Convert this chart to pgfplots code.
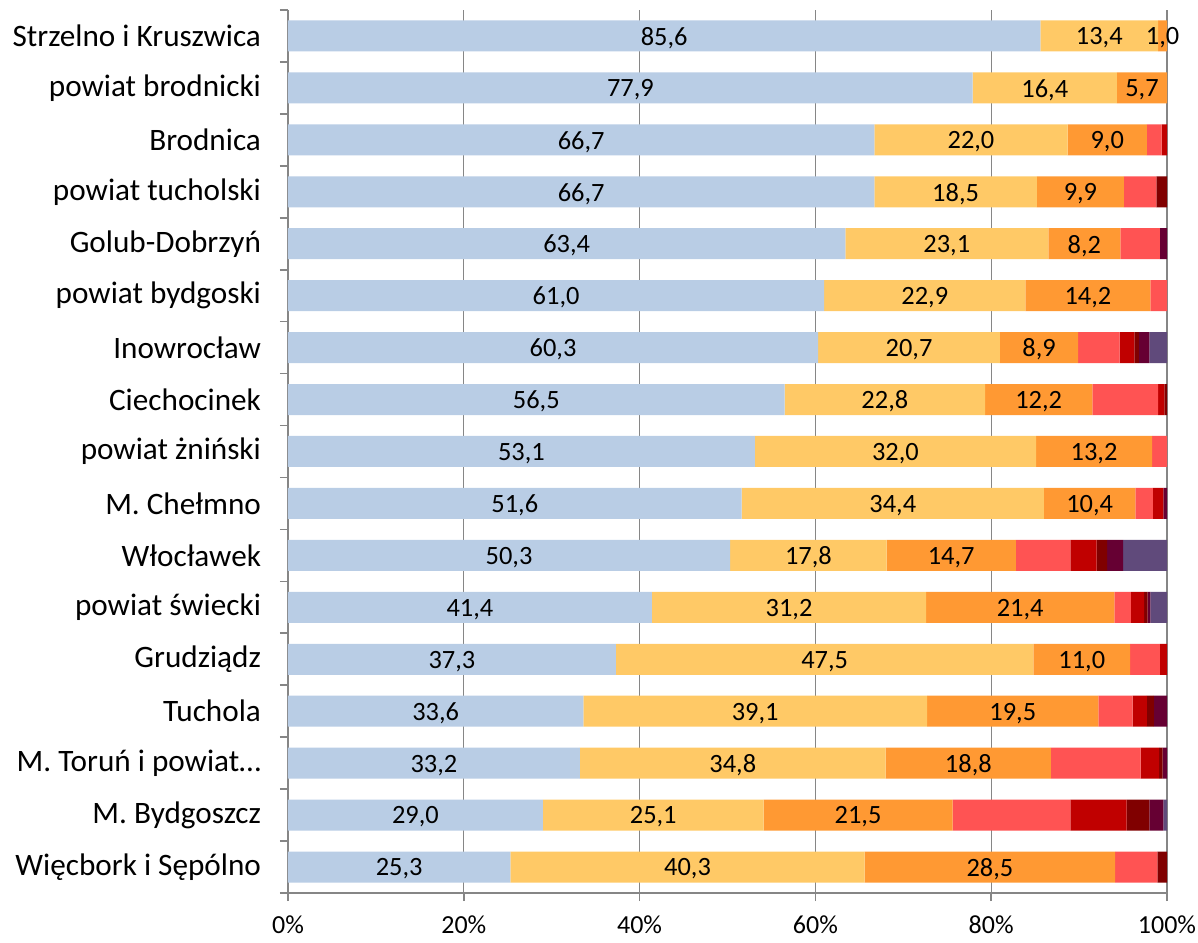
\documentclass[border=0pt]{standalone}
\usepackage{pgfplots}
\usepackage{pgfplotstable}
\pgfplotsset{compat=1.18}
\usepackage{fontspec}
\setmainfont{Carlito}
\definecolor{c1}{HTML}{B9CDE5}
\definecolor{c2}{HTML}{FFC966}
\definecolor{c3}{HTML}{FF9933}
\definecolor{c4}{HTML}{FF5353}
\definecolor{c5}{HTML}{C00000}
\definecolor{c6}{HTML}{800000}
\definecolor{c7}{HTML}{660033}
\definecolor{c8}{HTML}{604A7B}
\definecolor{axgray}{HTML}{868686}
\pgfplotstableread{
y s1 s2 s3 s4 s5 s6 s7 s8
0 25.3 40.3 28.5 4.8 0 1.1 0 0
1 29.0 25.1 21.5 13.4 6.4 2.6 1.6 0.4
2 33.2 34.8 18.8 10.2 2.1 0.4 0.5 0
3 33.6 39.1 19.5 3.9 1.6 0.8 1.5 0
4 37.3 47.5 11.0 3.4 0.8 0 0 0
5 41.4 31.2 21.4 1.9 1.5 0.4 0.3 1.9
6 50.3 17.8 14.7 6.2 3.0 1.2 1.8 5.0
7 51.6 34.4 10.4 2.0 1.2 0 0.4 0
8 53.1 32.0 13.2 1.7 0 0 0 0
9 56.5 22.8 12.2 7.5 0.7 0.3 0 0
10 60.3 20.7 8.9 4.7 1.7 0.5 1.2 2.0
11 61.0 22.9 14.2 1.9 0 0 0 0
12 63.4 23.1 8.2 4.5 0 0 0.8 0
13 66.7 18.5 9.9 3.7 0 1.2 0 0
14 66.7 22.0 9.0 1.7 0.6 0 0 0
15 77.9 16.4 5.7 0 0 0 0 0
16 85.6 13.4 1.0 0 0 0 0 0
}\datatable
\pgfplotsset{
  base/.style={
    at={(0pt,0pt)}, anchor=south west,
    scale only axis, width=439.5pt, height=441.5pt,
    xmin=0, xmax=100, ymin=-0.5, ymax=16.5,
    /pgf/number format/assume math mode=true,
  },
}
\begin{document}
\begin{tikzpicture}
\useasboundingbox (-144pt,-24.5pt) rectangle (455pt,446.5pt);
\begin{axis}[
  base,
  xbar stacked, bar width=15.5pt,
  xtick={0,20,40,60,80,100},
  xticklabels={0\%,20\%,40\%,60\%,80\%,100\%},
  ytick={0,...,16},
  yticklabels={Więcbork i Sępólno, M. Bydgoszcz, M. Toruń i powiat…, Tuchola, Grudziądz, powiat świecki, Włocławek, M. Chełmno, powiat żniński, Ciechocinek, Inowrocław, powiat bydgoski, Golub-Dobrzyń, powiat tucholski, Brodnica, powiat brodnicki, Strzelno i Kruszwica},
  minor ytick={-0.5,0.5,...,16.5},
  major y tick style={draw=none},
  tick align=outside, major tick length=4pt, minor tick length=4pt,
  tick style={draw=axgray, line width=0.8pt},
  axis x line*=bottom, axis y line*=left,
  axis line style={draw=axgray, line width=0.9pt, -},
  xmajorgrids, major grid style={draw=axgray, line width=0.7pt},
  ticklabel style={text=black},
  y tick label style={xshift=-6pt, font=\fontsize{15.6}{18}\selectfont},
  x tick label style={yshift=-4pt, font=\fontsize{13}{15}\selectfont},
  every axis plot/.append style={draw=none},
]
\addplot[fill=c1] table[x=s1, y=y] {\datatable};
\addplot[fill=c2] table[x=s2, y=y] {\datatable};
\addplot[fill=c3] table[x=s3, y=y] {\datatable};
\addplot[fill=c4] table[x=s4, y=y] {\datatable};
\addplot[fill=c5] table[x=s5, y=y] {\datatable};
\addplot[fill=c6] table[x=s6, y=y] {\datatable};
\addplot[fill=c7] table[x=s7, y=y] {\datatable};
\addplot[fill=c8] table[x=s8, y=y] {\datatable};
\end{axis}
\begin{axis}[
  base, hide axis,
  nodes near coords, point meta=explicit,
  /pgf/number format/.cd, use comma, fixed, fixed zerofill, precision=1, /pgfplots/.cd,
  every node near coord/.append style={anchor=center, yshift=-1pt, font=\fontsize{13.2}{15}\selectfont, text=black},
]
\addplot[only marks, mark=none] table[x expr=\thisrow{s1}/2, y=y, meta=s1] {\datatable};
\addplot[only marks, mark=none] table[x expr=\thisrow{s1}+\thisrow{s2}/2, y=y, meta=s2] {\datatable};
\addplot[only marks, mark=none] table[x expr=\thisrow{s1}+\thisrow{s2}+\thisrow{s3}/2, y=y, meta=s3] {\datatable};
\end{axis}
\end{tikzpicture}
\end{document}
